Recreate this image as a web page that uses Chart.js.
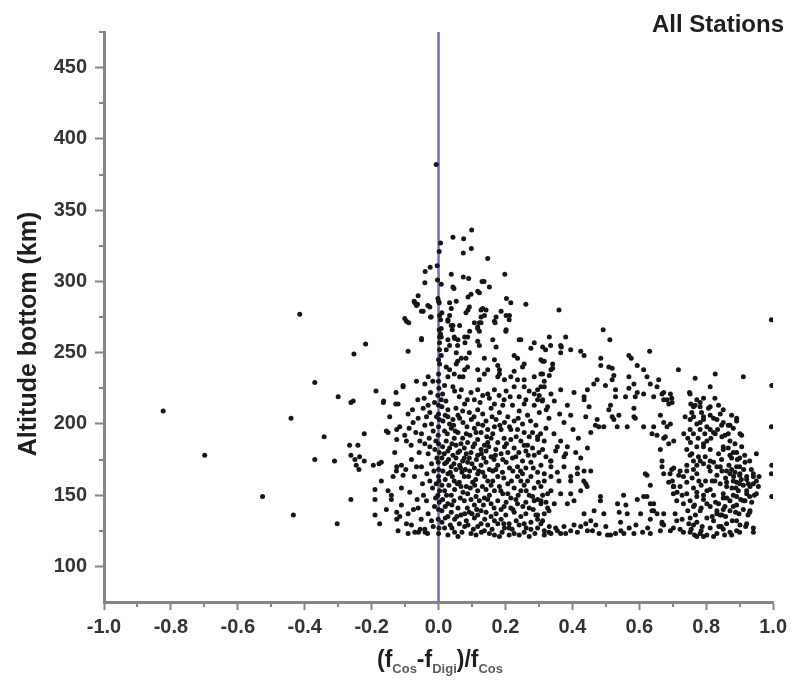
<!DOCTYPE html>
<html>
<head>
<meta charset="utf-8">
<script src="https://cdn.jsdelivr.net/npm/chart.js@4.4.1/dist/chart.umd.min.js"></script>
<style>
  html, body { margin: 0; padding: 0; background: #ffffff; }
  canvas { display: block; }
</style>
</head>
<body>
<canvas id="chart" width="792" height="694"></canvas>
<script>
// Axis ticks
const xTickValues = [-1.0, -0.8, -0.6, -0.4, -0.2, 0.0, 0.2, 0.4, 0.6, 0.8, 1.0];
const xMinorTicks = [-0.9, -0.7, -0.5, -0.3, -0.1, 0.1, 0.3, 0.5, 0.7, 0.9];
const yTickValues = [100, 150, 200, 250, 300, 350, 400, 450];
const yMinorTicks = [125, 175, 225, 275, 325, 375, 425, 475];

// Reference line at zero difference
const zeroLine = [[0, 75], [0, 475]];

// Observations: [(fCos - fDigi)/fCos, altitude bottom in km]
const leftTail = [
  [-0.823,209],[-0.699,178],[-0.526,149],[-0.441,204],[-0.434,136],[-0.415,277],[-0.370,229],[-0.370,175],
  [-0.342,191],[-0.311,174],[-0.303,130],[-0.300,219],[-0.262,215],[-0.255,216],[-0.253,249],[-0.218,256],
  [-0.266,185],[-0.241,185],[-0.262,178],[-0.250,175],[-0.236,177],[-0.246,171],[-0.238,168],[-0.222,174],
  [-0.195,171],[-0.178,172],[-0.222,193],[-0.187,223],[-0.164,216],[-0.156,195],[-0.262,147],[-0.190,154],
  [-0.190,147],[-0.141,147],[-0.190,136],[-0.125,138],[-0.125,133],[-0.127,222],[-0.128,214],[-0.125,196],
  [-0.125,189],[-0.125,170]
];

const upperFan = [
  [-0.007,382],[0.099,336],[0.043,331],[0.075,330],[0.006,327],[0.098,323],[0.074,320],[0.002,321],
  [0.147,316],[-0.004,311],[-0.025,310],[-0.040,307],[0.038,305],[0.074,303],[0.090,302],[0.130,300],
  [0.136,300],[0.198,305],[-0.041,299],[-0.003,301],[0.008,298],[0.043,296],[0.152,296],[0.122,292],
  [0.097,291],[0.088,289],[-0.061,290],[-0.071,285],[-0.066,283],[-0.002,288],[0.002,285],[-0.032,283],
  [-0.026,282],[0.033,285],[0.053,286],[0.203,288],[0.216,285],[0.261,284],[-0.046,279],[-0.022,275],
  [0.010,278],[0.006,273],[0.038,281],[0.033,276],[0.088,280],[0.082,278],[0.132,281],[0.142,280],
  [0.360,280],[0.187,279],[0.212,276],[-0.096,272],[-0.089,271],[0.028,273],[0.038,269],[0.127,275],
  [0.122,271],[0.172,275],[0.167,272],[0.107,271],[0.117,267],[0.122,265],[0.093,265],[0.201,265],
  [0.008,267],[0.006,263],[0.008,261],[0.041,266],[0.048,260],[-0.051,259],[0.078,261],[0.058,259],
  [0.162,259],[0.241,259],[0.286,257],[0.331,261],[0.380,261],[0.335,255],[0.367,254],[0.492,266],
  [0.512,259],[0.046,295],[0.117,293],[-0.073,286],[-0.063,284],[0.000,286],[0.028,272],[0.092,282],
  [0.127,280],[0.137,276],[0.169,271],[-0.101,274],[0.043,269],[0.063,269],[0.117,268],[0.127,271],
  [0.003,276],[-0.051,279],[-0.024,275],[0.202,276],[0.211,273],[0.202,266],[0.003,261],[-0.051,260],
  [0.028,259],[0.047,261],[0.057,255],[0.087,261],[0.079,257],[0.117,258],[0.122,255],[0.172,254],
  [0.246,259],[0.276,253],[0.311,254],[-0.091,251],[0.003,257],[0.003,252],[0.008,248],[0.033,255],
  [0.023,252],[0.053,250],[0.068,246],[0.057,244],[0.092,250],[0.082,246],[0.137,246],[0.167,245],
  [0.177,241],[0.182,238],[0.226,248],[0.236,246],[0.256,242],[0.251,240],[0.306,245],[0.316,244],
  [0.336,238],[0.331,234],[-0.031,233],[-0.017,230],[0.003,242],[0.000,235],[0.000,230],[0.023,240],
  [0.033,238],[0.028,233],[0.053,242],[0.047,235],[0.063,233],[0.078,238],[0.087,240],[0.073,233],
  [0.117,238],[0.137,235],[0.147,238],[0.122,231],[0.177,233],[0.182,235],[0.197,231],[0.216,233],
  [0.226,237],[0.236,231],[0.256,231],[0.286,233],[0.306,235],[0.316,230],[-0.106,227],[-0.066,230]
];

const coreNearZero = [
  [-0.165,215],[-0.121,214],[-0.106,226],[-0.041,228],[0.018,227],[0.043,226],[0.048,223],[0.117,224],
  [0.132,220],[0.107,217],[0.147,221],[0.167,224],[0.202,223],[0.226,226],[0.256,226],[0.286,221],
  [0.316,226],[0.311,217],[0.336,221],[0.256,214],[0.286,213],[0.167,214],[0.192,213],[0.221,213],
  [0.078,214],[0.092,208],[0.117,210],[0.028,210],[0.028,205],[0.043,203],[0.058,206],[0.008,217],
  [-0.031,213],[-0.026,208],[-0.036,205],[-0.021,200],[-0.041,199],[-0.061,204],[-0.076,201],[-0.091,207],
  [-0.116,198],[-0.101,192],[-0.096,188],[-0.151,194],[-0.051,193],[-0.056,188],[-0.041,186],[-0.026,184],
  [0.018,195],[0.038,197],[0.058,194],[0.083,193],[0.107,197],[0.127,194],[0.147,196],[0.167,198],
  [0.187,196],[0.212,198],[0.236,196],[0.256,194],[0.271,191],
  [0.023,188],[0.047,190],[0.067,186],[0.087,187],[0.117,189],[0.137,185],[0.157,190],[0.177,187],
  [0.216,189],[0.246,188],[0.266,185],[0.296,189],[0.316,188],
  [0.028,181],[0.043,178],[0.063,181],[0.077,176],[0.097,180],[0.117,178],[0.142,181],[0.157,177],
  [0.187,179],[0.207,180],[0.231,177],[0.261,181],[0.286,178],
  [0.018,172],[0.038,170],[0.063,171],[0.087,173],[0.107,169],[0.127,171],[0.152,168],[0.177,171],
  [0.202,173],[0.236,170],[0.261,169],[0.306,171],[0.336,174],
  [-0.031,179],[-0.021,172],[-0.051,170],[-0.081,175],[-0.111,171],[-0.126,167],[-0.171,173],[-0.106,164],
  [0.028,165],[0.047,160],[0.077,163],[0.102,159],[0.117,165],[0.147,160],[0.177,163],[0.207,158],
  [0.236,163],[0.266,160],[0.286,155],[0.316,160],[0.336,163],
  [0.018,153],[0.038,150],[0.067,156],[0.087,151],[0.117,153],[0.137,148],[0.167,153],[0.192,151],
  [0.216,148],[0.246,153],[0.271,150],[0.296,147],[0.326,151],
  [0.028,144],[0.058,141],[0.077,146],[0.107,143],[0.127,139],[0.157,144],[0.187,140],[0.216,141],
  [0.236,144],[0.271,141],[0.306,144],
  [0.028,135],[0.048,133],[0.078,137],[0.107,134],[0.127,130],[0.157,135],[0.187,133],[0.211,130],
  [0.246,135],[0.276,131],[0.316,137],
  [0.018,127],[0.048,124],[0.078,128],[0.097,123],[0.137,125],[0.167,122],[0.197,127],[0.226,123],
  [0.256,124],[0.296,127],
  [0.012,221],[0.062,219],[0.097,222],[0.152,218],[0.181,220],[0.241,219],[0.271,223],[0.301,220],
  [0.010,212],[0.052,211],[0.072,209],[0.132,207],[0.157,211],[0.182,208],[0.207,205],[0.241,209],
  [0.266,206],[0.301,208],[0.326,212],
  [0.013,202],[0.033,200],[0.073,201],[0.098,203],[0.118,200],[0.142,202],[0.172,203],[0.197,201],
  [0.226,202],[0.251,200],[0.291,199],[0.321,197],
  [0.012,184],[0.033,183],[0.052,185],[0.077,183],[0.103,184],[0.127,182],[0.150,184],[0.171,182],
  [0.197,184],[0.226,183],[0.256,185],[0.281,183],[0.311,182],
  [0.010,176],[0.030,175],[0.052,176],[0.072,174],[0.092,176],[0.113,175],[0.135,176],[0.166,175],
  [0.192,175],[0.221,176],[0.251,174],[0.276,173],[0.321,177],
  [0.013,167],[0.035,166],[0.052,168],[0.070,166],[0.093,167],[0.132,166],[0.162,167],[0.191,166],
  [0.222,167],[0.251,165],[0.296,166],
  [0.010,157],[0.031,157],[0.056,158],[0.083,156],[0.108,157],[0.131,156],[0.157,157],[0.182,156],
  [0.226,155],[0.256,157],[0.306,156],
  [0.012,147],[0.046,146],[0.065,148],[0.097,147],[0.122,146],[0.147,147],[0.177,146],[0.202,145],
  [0.231,147],[0.261,145],[0.286,146],[0.321,145],
  [0.010,139],[0.038,138],[0.067,136],[0.092,138],[0.117,136],[0.142,138],[0.172,137],[0.201,136],
  [0.226,138],[0.261,137],[0.291,136],
  [0.010,131],[0.035,129],[0.062,130],[0.088,129],[0.117,128],[0.147,129],[0.177,130],[0.211,127],
  [0.241,129],[0.276,126],[0.306,130],[0.331,128],
  [0.028,122],[0.058,121],[0.112,122],[0.152,123],[0.182,121],[0.211,122],[0.241,122],[0.271,121],
  [0.316,122],
  [0.022,216],[0.068,224],[0.086,217],[0.124,215],[0.196,217],[0.214,219],[0.261,217],
  [0.020,206],[0.045,199],[0.063,204],[0.085,198],[0.106,205],[0.132,199],[0.160,205],[0.183,199],
  [0.216,196],[0.238,204],[0.275,202],
  [0.026,193],[0.050,195],[0.072,190],[0.094,192],[0.112,194],[0.144,191],[0.162,193],[0.196,190],
  [0.232,191],[0.281,194],[0.305,193],
  [0.017,179],[0.040,186],[0.058,180],[0.083,179],[0.108,186],[0.128,179],[0.147,187],[0.170,178],
  [0.203,186],[0.240,180],[0.268,178],[0.300,180],
  [0.024,173],[0.046,172],[0.066,169],[0.080,168],[0.100,172],[0.120,167],[0.142,173],[0.171,168],
  [0.212,169],[0.245,167],[0.283,169],
  [0.020,161],[0.041,163],[0.062,159],[0.090,163],[0.111,161],[0.138,163],[0.162,160],[0.195,162],
  [0.218,160],[0.246,160],[0.276,163],[0.298,159],
  [0.024,150],[0.048,154],[0.073,152],[0.095,155],[0.112,149],[0.142,154],[0.152,150],[0.186,153],
  [0.207,151],[0.238,150],[0.262,153],[0.281,149],[0.311,150],
  [0.020,142],[0.040,143],[0.086,141],[0.114,140],[0.134,143],[0.166,141],[0.196,142],[0.222,140],
  [0.252,142],[0.283,140],[0.330,139],
  [0.020,134],[0.055,135],[0.083,132],[0.100,137],[0.138,133],[0.167,132],[0.195,130],[0.232,132],
  [0.256,130],[0.296,133],
  [0.040,127],[0.070,124],[0.104,126],[0.128,124],[0.160,126],[0.190,124],[0.220,126],[0.262,127],
  [0.288,123]
];

const lineColumn = [
  [0.000,140],[0.002,145],[-0.002,150],[0.001,160],[0.000,168],[-0.001,173],[0.002,180],[0.000,186],
  [-0.001,192],[0.002,203],[0.000,213],[-0.002,220],[0.001,225],[0.000,245],[0.002,266],[-0.001,133],
  [0.001,127],[0.000,123],[0.000,163],[-0.007,158],[0.003,153],[0.000,207],[0.000,198]
];

const leftOfLine = [
  [-0.012,215],[-0.016,195],[-0.011,182],[-0.014,167],[-0.018,155],[-0.012,142],[-0.016,128],[-0.024,222],
  [-0.062,217],[-0.046,211],[-0.068,194],[-0.082,185],[-0.058,180],[-0.072,163],[-0.048,158],[-0.086,152],
  [-0.064,147],[-0.052,133],[-0.033,123],[-0.091,123],[-0.060,124],[-0.040,124],[-0.131,180],[-0.146,205],
  [-0.136,163],[-0.156,140],[-0.176,130],[-0.121,125],[-0.111,155],[-0.071,124],[-0.041,126],[-0.081,129],
  [-0.141,150],[-0.111,143],[-0.116,135],[-0.091,137],[-0.096,130],[-0.061,141],[-0.036,146],[-0.031,137],
  [-0.021,132],[-0.171,160],[-0.151,153],
  [-0.006,205],[-0.008,188],[-0.005,176],[-0.009,148],[-0.028,190],[-0.035,165],[-0.045,150],[-0.026,160],
  [-0.066,170],[-0.078,210],[-0.088,197],[-0.043,218],[-0.098,168],[-0.075,140],[-0.055,126]
];

const middleBand = [
  [0.365,255],[0.365,250],[0.320,252],[0.395,252],[0.425,251],[0.435,248],[0.631,251],[0.485,246],
  [0.569,248],[0.576,246],[0.311,244],[0.341,242],[0.341,239],[0.311,235],[0.485,241],[0.509,240],
  [0.519,239],[0.524,234],[0.594,241],[0.613,238],[0.474,231],[0.464,228],[0.569,233],[0.584,228],
  [0.569,225],[0.594,222],[0.623,233],[0.658,231],[0.653,226],[0.633,228],[0.529,224],[0.529,219],
  [0.499,227],[0.519,231],[0.306,226],[0.296,224],[0.365,224],[0.405,222],[0.445,224],[0.435,219],
  [0.559,219],[0.588,219],[0.613,221],[0.643,219],[0.673,222],[0.693,221],[0.683,217],[0.698,215],
  [0.296,217],[0.310,216],
  [0.385,213],[0.395,206],[0.435,217],[0.514,213],[0.509,210],[0.519,205],[0.539,206],[0.524,203],
  [0.584,211],[0.584,205],[0.588,204],[0.474,203],[0.469,199],[0.479,198],[0.494,198],[0.534,198],
  [0.564,198],[0.613,198],[0.643,198],[0.638,193],[0.653,192],[0.673,201],[0.683,198],[0.678,191],
  [0.703,188],[0.330,204],[0.375,201],[0.296,191],[0.355,184],[0.385,184],[0.380,179],
  [0.350,181],[0.375,177],[0.425,176],[0.335,174],[0.415,169],[0.355,166],[0.395,163],[0.434,160],
  [0.444,156],
  [0.322,210],[0.346,216],[0.362,207],[0.402,196],[0.418,190],[0.440,205],[0.450,212],[0.455,194],
  [0.345,193],[0.365,188],[0.410,180],[0.445,183],
  [0.296,136],[0.326,141],[0.306,146],[0.311,132],[0.336,170],[0.375,170],[0.316,165],[0.360,160],
  [0.395,160],[0.415,165],[0.435,167],[0.455,167],[0.440,158],[0.425,153],[0.395,151],[0.365,151],
  [0.336,153],[0.346,144],[0.385,144],[0.405,146],
  [0.484,146],[0.494,137],[0.465,139],[0.435,137],[0.455,132],[0.425,128],[0.445,125],[0.395,125],
  [0.375,128],[0.355,125],[0.336,123],[0.365,123],[0.316,125],
  [0.594,147],[0.604,137],[0.564,137],[0.544,131],[0.529,123],[0.514,122],[0.554,123],[0.584,123],
  [0.633,123],
  [0.623,164],[0.633,157],[0.623,149],[0.643,144],[0.638,139],[0.653,137],[0.668,131],[0.673,129],
  [0.663,125],
  [0.668,170],[0.673,165],[0.688,159],[0.703,169],[0.699,160],[0.703,156],[0.713,152],
  [0.484,149],[0.553,150],[0.618,165],[0.613,149],[0.633,144],[0.643,139],[0.633,133],
  [0.692,165],[0.702,156],[0.673,137],[0.668,130],[0.702,127],
  [0.540,138],[0.560,143],[0.535,144],
  [0.330,124],[0.350,127],[0.380,123],[0.405,129],[0.415,124],[0.440,130],[0.460,125],[0.470,129],
  [0.480,123],[0.500,128],[0.505,122],[0.545,125],[0.570,127],[0.590,129],[0.610,124],[0.625,127]
];

const rightCluster = [
  [0.717,238],[0.827,235],[0.911,233],[0.767,232],[0.812,226],[0.750,222],[0.754,214],[0.772,217],
  [0.792,218],[0.762,212],[0.782,212],[0.812,212],[0.837,213],[0.851,210],[0.876,206],[0.891,204],
  [0.901,193],[0.733,193],[0.753,187],[0.772,184],[0.792,186],[0.762,205],[0.772,200],[0.782,201],
  [0.792,203],[0.812,206],[0.832,203],[0.802,198],[0.822,194],[0.847,191],[0.866,199],[0.866,193],
  [0.881,197],[0.871,188],[0.891,180],[0.851,184],[0.871,178],[0.837,179],
  [0.752,221],[0.668,221],[0.697,218],[0.673,217],[0.688,214],[0.782,215],[0.767,213],[0.757,208],
  [0.737,205],[0.752,203],[0.807,211],[0.842,207],[0.792,205],[0.822,204],[0.851,201],[0.891,202],
  [0.871,199],[0.663,206],[0.693,200],[0.752,196],[0.762,193],[0.782,196],[0.812,196],[0.827,193],
  [0.906,192],[0.673,190],[0.688,186],[0.663,182],[0.668,174],[0.802,188],[0.792,184],[0.812,182],
  [0.797,177],[0.782,174],[0.742,182],[0.752,178],[0.762,174],[0.742,171],[0.772,171],[0.851,182],
  [0.866,183],[0.881,180],[0.876,176],[0.900,176],[0.900,170],[0.916,173],[0.930,174],[0.950,179],
  [0.757,179],[0.777,177],[0.792,172],[0.762,168],[0.742,167],[0.772,165],[0.812,174],[0.832,170],
  [0.847,167],[0.812,167],[0.832,164],[0.871,165],[0.891,170],[0.901,165],[0.921,163],[0.941,165],
  [0.950,160],[0.891,159],[0.911,157],[0.931,156],[0.896,153],[0.881,150],[0.861,156],
  [0.822,173],[0.842,170],[0.861,167],[0.886,166],[0.900,164],[0.921,161],[0.941,163],[0.697,168],
  [0.722,167],[0.718,164],[0.732,163],[0.842,158],[0.861,159],[0.881,160],[0.900,158],[0.921,153],
  [0.941,158],[0.956,156],[0.702,156],[0.702,151],[0.712,146],[0.742,151],[0.772,149],[0.802,153],
  [0.792,147],[0.822,150],[0.851,151],[0.871,146],[0.891,149],[0.916,146],[0.930,149],
  [0.851,148],[0.837,144],[0.856,142],[0.832,137],[0.847,136],[0.871,139],[0.891,143],[0.911,146],
  [0.921,151],[0.936,145],[0.931,139],[0.950,151],[0.742,159],[0.762,155],[0.772,152],[0.752,146],
  [0.762,142],[0.782,139],[0.802,144],[0.792,150],[0.812,154],[0.722,156],[0.707,137],
  [0.732,144],[0.765,143],[0.785,141],[0.812,142],[0.832,139],[0.851,140],[0.881,142],[0.911,140],
  [0.930,138],[0.712,132],[0.752,134],[0.772,131],[0.802,134],[0.822,132],[0.842,136],[0.861,130],
  [0.891,132],[0.925,136],[0.693,125],[0.722,126],[0.752,124],[0.782,123],[0.812,127],[0.832,123],
  [0.851,126],[0.876,122],[0.900,124],[0.921,130],[0.941,127],
  [0.762,129],[0.755,126],[0.785,125],[0.802,122],[0.822,121],[0.792,121],[0.765,122],[0.732,124],
  [0.772,121],[0.855,122],[0.871,124],[0.891,125],[0.918,128],[0.941,124],[0.901,129],
  [0.868,171],[0.882,163],[0.893,175],[0.905,161],[0.877,155],[0.858,162],[0.888,138],[0.845,128],
  [0.798,160],[0.818,160],[0.785,157],[0.745,139],[0.728,133],[0.912,168],[0.926,158],
  [0.808,170],[0.826,160],[0.846,175],[0.862,148],[0.876,168],[0.889,155],[0.903,147],[0.915,178],
  [0.935,168],[0.944,150],[0.958,163],[0.828,145],[0.818,135],[0.858,135],[0.878,132],[0.898,137],
  [0.838,128],[0.814,190],[0.834,196],[0.856,192],[0.886,186],[0.906,184],[0.776,190],[0.796,193],
  [0.786,208],[0.826,218],[0.846,199],[0.745,190],[0.758,162],[0.778,160],[0.728,150],[0.748,130],
  [0.768,136],[0.788,128]
];

const edgeColumn = [
  [0.995,273],[0.996,227],[0.995,198],[0.996,171],[0.995,165],[0.996,149]
];

const allObservations = [].concat(leftTail, upperFan, coreNearZero, lineColumn, leftOfLine,
                                  middleBand, rightCluster, edgeColumn);

const FONT = "'Liberation Sans', Arial, sans-serif";
const AXIS_GRAY = '#858585';

const toXY = arr => arr.map(p => ({ x: p[0], y: p[1] }));

// Minor ticks and the custom titles
const decorations = {
  id: 'decorations',
  afterDraw(chart) {
    const { ctx, chartArea, scales } = chart;
    ctx.save();
    ctx.strokeStyle = AXIS_GRAY;
    ctx.lineWidth = 2;
    ctx.beginPath();
    xMinorTicks.forEach(v => {
      const px = Math.round(scales.x.getPixelForValue(v));
      ctx.moveTo(px, chartArea.bottom);
      ctx.lineTo(px, chartArea.bottom + 5);
    });
    yMinorTicks.forEach(v => {
      const py = Math.round(scales.y.getPixelForValue(v));
      ctx.moveTo(chartArea.left, py);
      ctx.lineTo(chartArea.left - 5, py);
    });
    ctx.stroke();

    // Panel title
    ctx.fillStyle = '#1e1e1e';
    ctx.font = "bold 24px " + FONT;
    ctx.textAlign = 'right';
    ctx.textBaseline = 'alphabetic';
    ctx.fillText('All Stations', 784, 32);

    // Vertical axis title
    ctx.save();
    ctx.translate(29, 334);
    ctx.rotate(-Math.PI / 2);
    ctx.textAlign = 'center';
    ctx.textBaseline = 'middle';
    ctx.font = "bold 25px " + FONT;
    ctx.fillStyle = '#1e1e1e';
    ctx.fillText('Altitude bottom (km)', 0, 0);
    ctx.restore();

    // Horizontal axis title with subscripts
    const parts = [
      { t: '(f', sub: false }, { t: 'Cos', sub: true }, { t: '-f', sub: false },
      { t: 'Digi', sub: true }, { t: ')/f', sub: false }, { t: 'Cos', sub: true }
    ];
    const mainFont = "bold 23px " + FONT;
    const subFont = "bold 13px " + FONT;
    let total = 0;
    parts.forEach(p => {
      ctx.font = p.sub ? subFont : mainFont;
      p.w = ctx.measureText(p.t).width;
      total += p.w;
    });
    let cx = 440 - total / 2;
    const base = 667;
    ctx.textAlign = 'left';
    ctx.textBaseline = 'alphabetic';
    parts.forEach(p => {
      ctx.font = p.sub ? subFont : mainFont;
      ctx.fillStyle = p.sub ? '#5a5a5a' : '#1e1e1e';
      ctx.fillText(p.t, cx, p.sub ? base + 6 : base);
      cx += p.w;
    });
    ctx.restore();
  }
};

new Chart(document.getElementById('chart'), {
  type: 'scatter',
  data: {
    datasets: [
      {
        data: toXY(allObservations),
        backgroundColor: '#161616',
        borderWidth: 0,
        pointRadius: 2.5,
        pointHoverRadius: 2.5
      },
      {
        data: toXY(zeroLine),
        showLine: true,
        borderColor: '#6d6dd0',
        borderWidth: 2.5,
        pointRadius: 0,
        fill: false
      }
    ]
  },
  options: {
    responsive: false,
    animation: false,
    devicePixelRatio: 1,
    layout: { padding: { left: 0, right: 15, top: 32, bottom: 0 } },
    plugins: { legend: { display: false }, tooltip: { enabled: false } },
    scales: {
      x: {
        type: 'linear',
        min: -1,
        max: 1,
        afterFit(s) { s.height = 92; },
        afterBuildTicks(s) { s.ticks = xTickValues.map(v => ({ value: v })); },
        ticks: {
          callback: v => Number(v).toFixed(1),
          font: { family: FONT, size: 20, weight: 'bold' },
          color: '#333333',
          padding: 5,
          maxRotation: 0,
          autoSkip: false
        },
        grid: { drawOnChartArea: false, tickLength: 8, tickColor: AXIS_GRAY, tickWidth: 2 },
        border: { color: AXIS_GRAY, width: 3 }
      },
      y: {
        type: 'linear',
        min: 75,
        max: 475,
        afterFit(s) { s.width = 104; },
        afterBuildTicks(s) { s.ticks = yTickValues.map(v => ({ value: v })); },
        ticks: {
          callback: v => String(v),
          font: { family: FONT, size: 20, weight: 'bold' },
          color: '#333333',
          padding: 8,
          autoSkip: false
        },
        grid: { drawOnChartArea: false, tickLength: 9, tickColor: AXIS_GRAY, tickWidth: 2 },
        border: { color: AXIS_GRAY, width: 3 }
      }
    }
  },
  plugins: [decorations]
});
</script>
</body>
</html>
